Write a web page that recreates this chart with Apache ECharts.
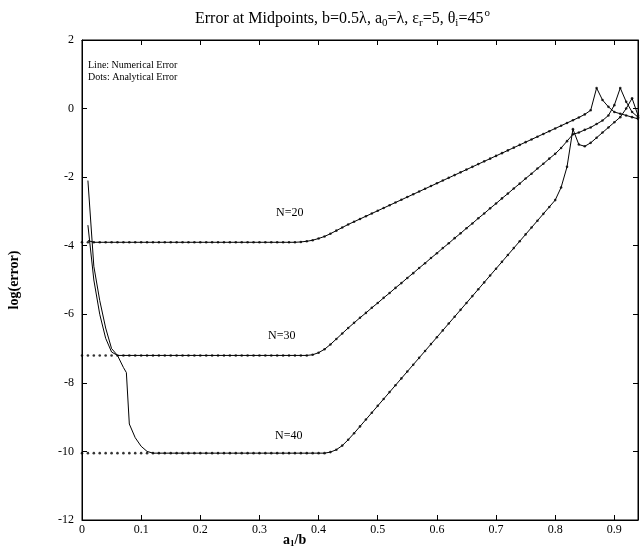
<!DOCTYPE html>
<html><head><meta charset="utf-8">
<script src="https://cdn.jsdelivr.net/npm/echarts@6/dist/echarts.min.js"></script>
<style>html,body{margin:0;padding:0;background:#fff}#c{width:640px;height:548px}</style>
</head><body><div id="c"></div>
<script>
// x grid of analytical points
const xStart = 0, xStep = 0.01, nPts = 95;
const xs = Array.from({length: nPts}, (_, i) => +(xStart + i * xStep).toFixed(2));

const ana20 = [
-3.9,-3.9,-3.9,-3.9,-3.9,-3.9,-3.9,-3.9,-3.9,-3.9,-3.9,-3.9,-3.9,-3.9,-3.9,-3.9,-3.9,-3.9,-3.9,-3.9,
-3.9,-3.9,-3.9,-3.9,-3.9,-3.9,-3.9,-3.9,-3.9,-3.9,-3.9,-3.9,-3.9,-3.9,-3.9,-3.9,-3.9,
-3.89,-3.87,-3.84,-3.79,-3.73,-3.65,-3.56,-3.47,-3.38,-3.30,
-3.22,-3.14,-3.06,-2.98,-2.90,-2.82,-2.74,-2.66,-2.58,-2.50,
-2.42,-2.34,-2.26,-2.18,-2.10,-2.02,-1.94,-1.86,-1.78,-1.70,
-1.62,-1.54,-1.46,-1.38,-1.30,-1.22,-1.14,-1.06,-0.98,-0.90,
-0.82,-0.74,-0.66,-0.58,-0.50,-0.42,-0.34,-0.26,-0.17,-0.05,
0.6,0.25,0.05,-0.1,-0.15,-0.2,-0.25,-0.3];
const ana30 = [
-7.2,-7.2,-7.2,-7.2,-7.2,-7.2,-7.2,-7.2,-7.2,-7.2,-7.2,-7.2,-7.2,-7.2,-7.2,-7.2,-7.2,-7.2,-7.2,-7.2,
-7.2,-7.2,-7.2,-7.2,-7.2,-7.2,-7.2,-7.2,-7.2,-7.2,-7.2,-7.2,-7.2,-7.2,-7.2,-7.2,-7.2,-7.2,-7.2,
-7.18,-7.12,-7.02,-6.88,-6.72,-6.56,-6.40,-6.25,-6.10,-5.96,-5.81,-5.67,-5.52,-5.38,-5.23,-5.09,
-4.94,-4.80,-4.65,-4.51,-4.36,-4.22,-4.07,-3.93,-3.78,-3.64,-3.49,-3.35,-3.20,-3.06,-2.91,-2.77,
-2.62,-2.48,-2.33,-2.19,-2.04,-1.90,-1.75,-1.61,-1.46,-1.32,-1.15,-0.95,-0.75,-0.70,-0.62,-0.55,
-0.45,-0.35,-0.20,0.10,0.60,0.20,-0.10,-0.25];
const ana40 = [
-10.05,-10.05,-10.05,-10.05,-10.05,-10.05,-10.05,-10.05,-10.05,-10.05,-10.05,-10.05,-10.05,-10.05,
-10.05,-10.05,-10.05,-10.05,-10.05,-10.05,-10.05,-10.05,-10.05,-10.05,-10.05,-10.05,-10.05,-10.05,
-10.05,-10.05,-10.05,-10.05,-10.05,-10.05,-10.05,-10.05,-10.05,-10.05,-10.05,-10.05,-10.05,-10.05,
-10.02,-9.95,-9.83,-9.66,-9.47,-9.27,-9.07,-8.87,-8.67,-8.47,-8.27,-8.07,-7.87,-7.67,-7.47,-7.27,
-7.07,-6.87,-6.67,-6.47,-6.27,-6.07,-5.87,-5.67,-5.47,-5.27,-5.07,-4.87,-4.67,-4.47,-4.27,-4.07,
-3.87,-3.67,-3.47,-3.27,-3.07,-2.87,-2.67,-2.30,-1.70,-0.60,-1.05,-1.10,-1.00,-0.85,-0.70,-0.55,
-0.40,-0.25,0.00,0.30,-0.20];

// numerical error where it departs from the analytical one (small a1/b)
const num20HeadX = [0.01, 0.02];
const num20HeadY = [-3.85, -3.9];
const num30HeadX = [0.01, 0.02, 0.03, 0.04, 0.05, 0.06];
const num30HeadY = [-3.4, -5.0, -6.0, -6.7, -7.1, -7.2];
const num40HeadX = [0.01, 0.02, 0.03, 0.04, 0.05, 0.06, 0.07, 0.075, 0.08, 0.09, 0.10, 0.11, 0.12];
const num40HeadY = [-2.1, -4.6, -5.6, -6.4, -7.0, -7.2, -7.55, -7.7, -9.2, -9.6, -9.85, -10.0, -10.05];

const curveLabels = ['N=20', 'N=30', 'N=40'];

function pairs(xa, ya) { return xa.map((x, i) => [x, ya[i]]); }
function numerical(hx, hy, ana) {
  const last = hx[hx.length - 1];
  const tail = xs.map((x, i) => [x, ana[i]]).filter(p => p[0] > last + 1e-9);
  return pairs(hx, hy).concat(tail);
}

const serif = 'Liberation Serif';
const chart = echarts.init(document.getElementById('c'), null, {renderer: 'canvas'});
const dotStyle = {type: 'scatter', symbol: 'circle', symbolSize: 2.6, itemStyle: {color: '#000'}, silent: true, z: 3};
const lineStyle = {type: 'line', showSymbol: false, lineStyle: {color: '#000', width: 1}, silent: true, z: 2};
const tickOnly = {axisLine: {show: true, onZero: false, lineStyle: {color: '#000'}}, splitLine: {show: false},
  axisTick: {inside: true, length: 5, lineStyle: {color: '#000'}}, axisLabel: {show: false}};

chart.setOption({
  animation: false,
  backgroundColor: '#fff',
  title: {
    text: 'Error at Midpoints, b=0.5λ, a{s|0}=λ, ε{s|r}=5, θ{s|i}=45{p|o}',
    left: 190, top: 3,
    textStyle: {fontFamily: serif, fontSize: 16, fontWeight: 'normal', color: '#000',
      rich: {s: {fontFamily: serif, fontSize: 11, padding: [10, 0, 0, 0], color: '#000'},
             p: {fontFamily: serif, fontSize: 11, padding: [0, 0, 10, 1], color: '#000'}}}
  },
  grid: {left: 82, right: 2, top: 40, bottom: 28, show: true, borderColor: '#000', borderWidth: 1},
  xAxis: [{
    type: 'value', min: 0, max: 0.94, interval: 0.1,
    axisLine: {onZero: false, lineStyle: {color: '#000'}}, splitLine: {show: false},
    axisTick: {inside: true, length: 5, lineStyle: {color: '#000'}},
    axisLabel: {fontFamily: serif, fontSize: 12, color: '#000', margin: 4, showMaxLabel: false,
      formatter: v => (Math.abs(v) < 1e-9 ? '0' : String(+v.toFixed(1)))}
  }, Object.assign({type: 'value', position: 'top', min: 0, max: 0.94, interval: 0.1}, tickOnly)],
  yAxis: [{
    type: 'value', min: -12, max: 2, interval: 2,
    axisLine: {onZero: false, lineStyle: {color: '#000'}}, splitLine: {show: false},
    axisTick: {inside: true, length: 5, lineStyle: {color: '#000'}},
    axisLabel: {fontFamily: serif, fontSize: 12, color: '#000', margin: 8}
  }, Object.assign({type: 'value', position: 'right', min: -12, max: 2, interval: 2}, tickOnly)],
  graphic: [
    {type: 'text', left: 88, top: 60, style: {text: 'Line: Numerical Error', font: '10px "Liberation Serif"', fill: '#000'}},
    {type: 'text', left: 88, top: 72, style: {text: 'Dots: Analytical Error', font: '10px "Liberation Serif"', fill: '#000'}},
    {type: 'text', left: 276, top: 207, style: {text: curveLabels[0], font: '12px "Liberation Serif"', fill: '#000'}},
    {type: 'text', left: 268, top: 330, style: {text: curveLabels[1], font: '12px "Liberation Serif"', fill: '#000'}},
    {type: 'text', left: 275, top: 430, style: {text: curveLabels[2], font: '12px "Liberation Serif"', fill: '#000'}},
    {type: 'text', left: 283, top: 533, style: {rich: {n: {font: 'bold 14px "Liberation Serif"', fill: '#000'}, s: {font: 'bold 9px "Liberation Serif"', fill: '#000', padding: [7,0,0,0]}}, text: '{n|a}{s|1}{n|/b}'}},
    {type: 'text', x: 14, y: 280, rotation: Math.PI / 2, style: {text: 'log(error)', font: 'bold 14px "Liberation Serif"', fill: '#000', align: 'center', verticalAlign: 'middle'}}
  ],
  series: [
    Object.assign({data: pairs(xs, ana20)}, dotStyle),
    Object.assign({data: pairs(xs, ana30)}, dotStyle),
    Object.assign({data: pairs(xs, ana40)}, dotStyle),
    Object.assign({data: numerical(num20HeadX, num20HeadY, ana20)}, lineStyle),
    Object.assign({data: numerical(num30HeadX, num30HeadY, ana30)}, lineStyle),
    Object.assign({data: numerical(num40HeadX, num40HeadY, ana40)}, lineStyle)
  ]
});
</script></body></html>
